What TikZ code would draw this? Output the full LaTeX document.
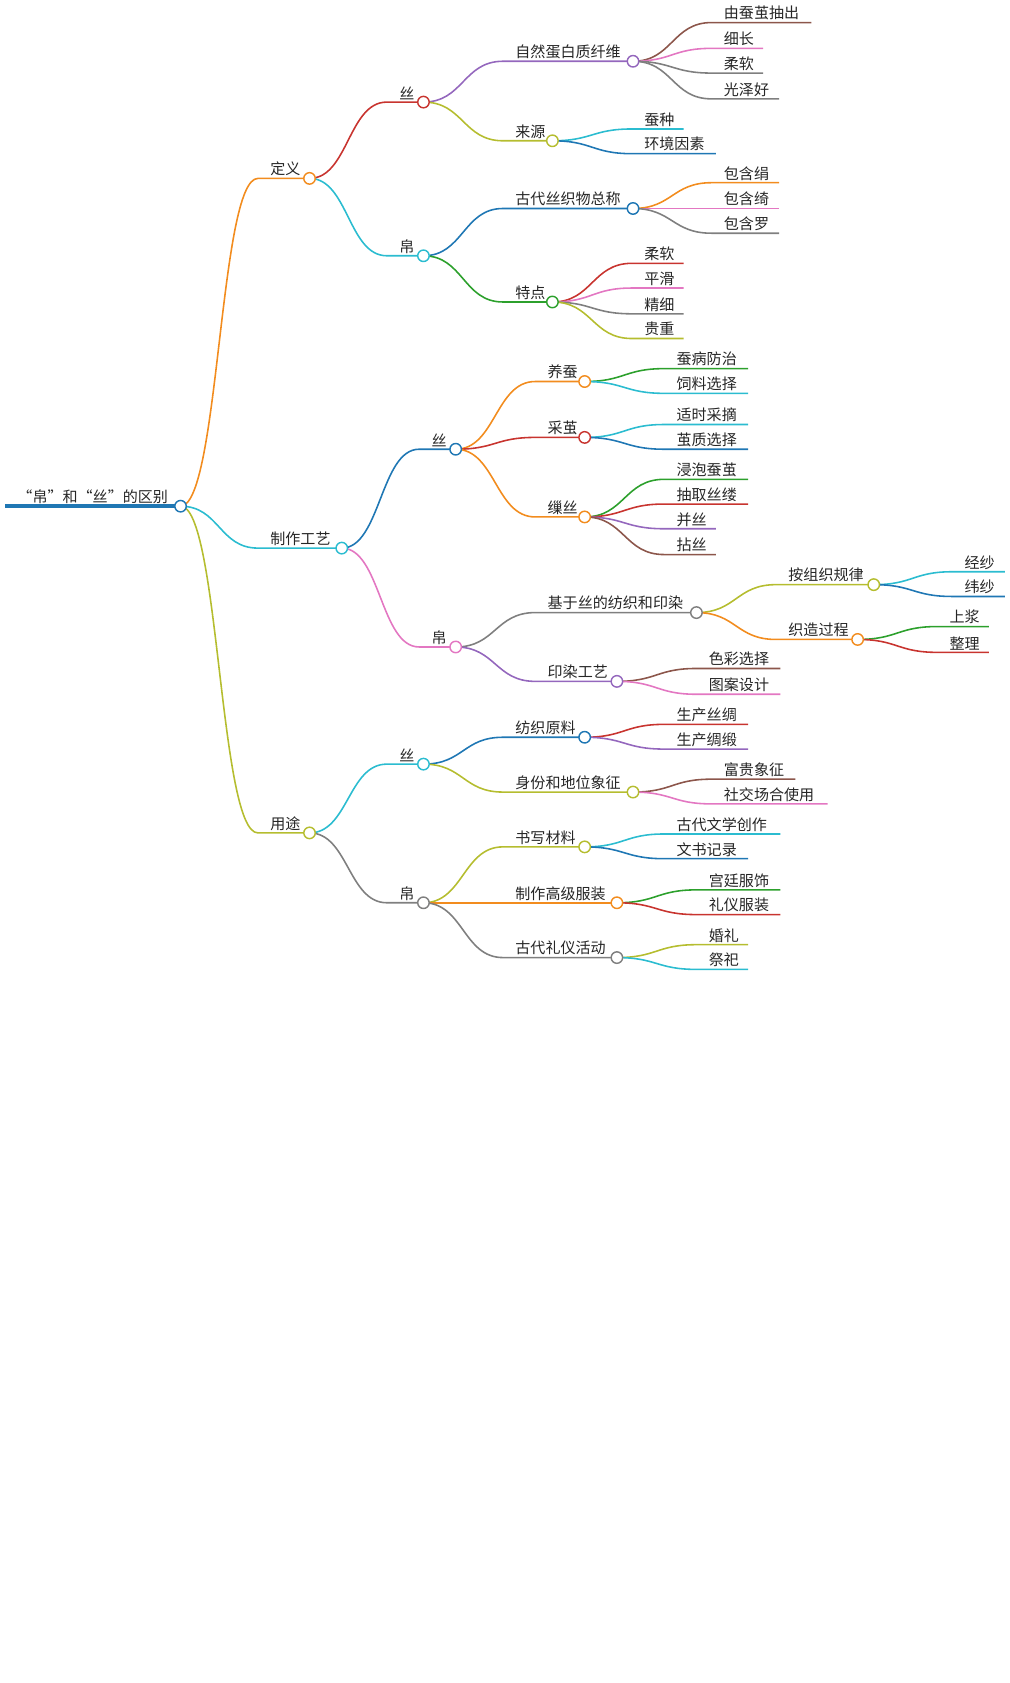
\documentclass[tikz,border=0pt]{standalone}
\usepackage{fontspec}
\setmainfont{Noto Sans CJK SC}
\usetikzlibrary{calc}
\definecolor{cor}{HTML}{F28C1E}\definecolor{ccy}{HTML}{2BBCD0}\definecolor{col}{HTML}{B5BD2F}
\definecolor{cre}{HTML}{C8342F}\definecolor{cpu}{HTML}{9467BD}\definecolor{cbl}{HTML}{1F77B4}
\definecolor{cgr}{HTML}{2CA02C}\definecolor{cpi}{HTML}{E377C2}\definecolor{cgy}{HTML}{7F7F7F}
\definecolor{cbr}{HTML}{8C564B}
\tikzset{edge/.style={line width=1.1pt},
 dot/.style={circle,draw,fill=white,line width=1pt,minimum size=8pt,inner sep=0pt},
 lab/.style={anchor=south west,inner sep=1.5pt,font=\fontsize{10.5}{12}\selectfont,text=black!85}}
\newcommand\mnode[7]{%
 \coordinate (#1s) at (#4,#5); \coordinate (#1) at (#6,#5);
 \coordinate (#1m) at ($(#2)!.5!(#1s)$);
 \draw[#3,edge] (#2) .. controls (#1m |- #2) and (#1m |- #1s) .. (#1s) -- (#1);
 \node[lab] (#1t) at ([xshift=7]#1s) {#7};}
\newcommand\mdot[2]{\node[dot,draw=#2] at (#1) {};}
\begin{document}
\begin{tikzpicture}[x=0.75pt,y=-0.75pt]
\useasboundingbox (0,0) rectangle (939,1566);
\coordinate (r) at (168,471);
\draw[cbl,line width=2.5pt] (5,471) -- (r);
\node[lab] (rt) at (14,471) {“帛”和“丝”的区别};
% 定义
\mnode{a}{r}{cor}{240}{166}{288}{定义}
\mnode{aa}{a}{cre}{360}{95}{394}{丝}
\mnode{aaa}{aa}{cpu}{468}{57}{589}{自然蛋白质纤维}
\mnode{l1}{aaa}{cbr}{662}{21}{755}{由蚕茧抽出}
\mnode{l2}{aaa}{cpi}{662}{45}{710}{细长}
\mnode{l3}{aaa}{cgy}{662}{68}{710}{柔软}
\mnode{l4}{aaa}{cgy}{662}{92}{725}{光泽好}
\mnode{aab}{aa}{col}{468}{131}{514}{来源}
\mnode{l5}{aab}{ccy}{588}{120}{636}{蚕种}
\mnode{l6}{aab}{cbl}{588}{143}{666}{环境因素}
\mnode{ab}{a}{ccy}{360}{238}{394}{帛}
\mnode{aba}{ab}{cbl}{468}{194}{589}{古代丝织物总称}
\mnode{l7}{aba}{cor}{662}{170}{725}{包含绢}
\mnode{l8}{aba}{cpi}{662}{194}{725}{包含绮}
\mnode{l9}{aba}{cgy}{662}{217}{725}{包含罗}
\mnode{abb}{ab}{cgr}{468}{281}{514}{特点}
\mnode{m1}{abb}{cre}{588}{245}{636}{柔软}
\mnode{m2}{abb}{cpi}{588}{268}{636}{平滑}
\mnode{m3}{abb}{cgy}{588}{292}{636}{精细}
\mnode{m4}{abb}{col}{588}{315}{636}{贵重}
% 制作工艺
\mnode{b}{r}{ccy}{240}{510}{318}{制作工艺}
\mnode{ba}{b}{cbl}{390}{418}{424}{丝}
\mnode{baa}{ba}{cor}{498}{355}{544}{养蚕}
\mnode{n1}{baa}{cgr}{618}{343}{696}{蚕病防治}
\mnode{n2}{baa}{ccy}{618}{366}{696}{饲料选择}
\mnode{bab}{ba}{cre}{498}{407}{544}{采茧}
\mnode{n3}{bab}{ccy}{618}{395}{696}{适时采摘}
\mnode{n4}{bab}{cbl}{618}{418}{696}{茧质选择}
\mnode{bac}{ba}{cor}{498}{481}{544}{缫丝}
\mnode{n5}{bac}{cgr}{618}{446}{696}{浸泡蚕茧}
\mnode{n6}{bac}{cre}{618}{469}{696}{抽取丝缕}
\mnode{n7}{bac}{cpu}{618}{492}{666}{并丝}
\mnode{n8}{bac}{cbr}{618}{516}{666}{拈丝}
\mnode{bb}{b}{cpi}{390}{602}{424}{帛}
\mnode{bba}{bb}{cgy}{498}{570}{648}{基于丝的纺织和印染}
\mnode{bbaa}{bba}{col}{722}{544}{813}{按组织规律}
\mnode{o1}{bbaa}{ccy}{886}{532}{935}{经纱}
\mnode{o2}{bbaa}{cbl}{886}{555}{935}{纬纱}
\mnode{bbab}{bba}{cor}{722}{595}{798}{织造过程}
\mnode{o3}{bbab}{cgr}{872}{583}{920}{上浆}
\mnode{o4}{bbab}{cre}{872}{607}{920}{整理}
\mnode{bbb}{bb}{cpu}{498}{634}{574}{印染工艺}
\mnode{o5}{bbb}{cbr}{648}{622}{726}{色彩选择}
\mnode{o6}{bbb}{cpi}{648}{646}{726}{图案设计}
% 用途
\mnode{c}{r}{col}{240}{775}{288}{用途}
\mnode{ca}{c}{ccy}{360}{711}{394}{丝}
\mnode{caa}{ca}{cbl}{468}{686}{544}{纺织原料}
\mnode{p1}{caa}{cre}{618}{674}{696}{生产丝绸}
\mnode{p2}{caa}{cpu}{618}{697}{696}{生产绸缎}
\mnode{cab}{ca}{col}{468}{737}{589}{身份和地位象征}
\mnode{p3}{cab}{cbr}{662}{725}{740}{富贵象征}
\mnode{p4}{cab}{cpi}{662}{748}{770}{社交场合使用}
\mnode{cb}{c}{cgy}{360}{840}{394}{帛}
\mnode{cba}{cb}{col}{468}{788}{544}{书写材料}
\mnode{q1}{cba}{ccy}{618}{776}{726}{古代文学创作}
\mnode{q2}{cba}{cbl}{618}{799}{696}{文书记录}
\mnode{cbb}{cb}{cor}{468}{840}{574}{制作高级服装}
\mnode{q3}{cbb}{cgr}{648}{828}{726}{宫廷服饰}
\mnode{q4}{cbb}{cre}{648}{851}{726}{礼仪服装}
\mnode{cbc}{cb}{cgy}{468}{891}{574}{古代礼仪活动}
\mnode{q5}{cbc}{col}{648}{879}{696}{婚礼}
\mnode{q6}{cbc}{ccy}{648}{902}{696}{祭祀}
% dots
\mdot{r}{cbl}\mdot{a}{cor}\mdot{aa}{cre}\mdot{aaa}{cpu}\mdot{aab}{col}
\mdot{ab}{ccy}\mdot{aba}{cbl}\mdot{abb}{cgr}
\mdot{b}{ccy}\mdot{ba}{cbl}\mdot{baa}{cor}\mdot{bab}{cre}\mdot{bac}{cor}
\mdot{bb}{cpi}\mdot{bba}{cgy}\mdot{bbaa}{col}\mdot{bbab}{cor}\mdot{bbb}{cpu}
\mdot{c}{col}\mdot{ca}{ccy}\mdot{caa}{cbl}\mdot{cab}{col}
\mdot{cb}{cgy}\mdot{cba}{col}\mdot{cbb}{cor}\mdot{cbc}{cgy}
\end{tikzpicture}
\end{document}
